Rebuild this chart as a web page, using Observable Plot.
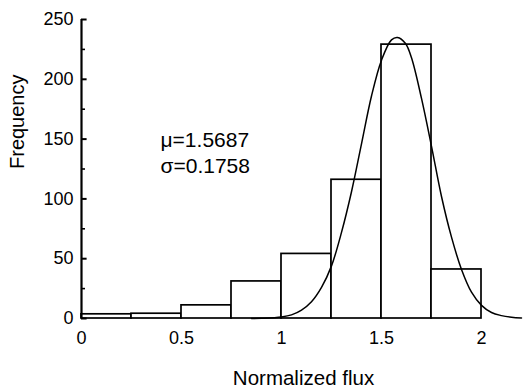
<!DOCTYPE html>
<html>
<head>
<meta charset="utf-8">
<script src="https://cdn.jsdelivr.net/npm/d3@7"></script>
<script src="https://cdn.jsdelivr.net/npm/@observablehq/plot@0.6"></script>
<style>
  body { margin: 0; background: #fff; }
</style>
</head>
<body>
<div id="chart"></div>
<script>
// Histogram bins (Normalized flux)
const binStarts = [0, 0.25, 0.5, 0.75, 1.0, 1.25, 1.5, 1.75];
const binWidth = 0.25;
const frequencies = [3.5, 4, 11, 31, 54, 116, 229, 41];

// Fitted normal curve
const curveX = [0.85, 0.9, 1.0, 1.05, 1.1, 1.15, 1.2, 1.25, 1.3, 1.35, 1.4, 1.45, 1.5, 1.55, 1.58, 1.62, 1.65, 1.7, 1.75, 1.8, 1.85, 1.9, 1.95, 2.0, 2.05, 2.1, 2.15, 2.2];
const curveY = [0, 0.2, 1.3, 3, 7, 14, 26, 44, 72, 106, 146, 186, 216, 233, 235, 230, 218, 184, 144, 102, 68, 41, 22, 11, 5, 2.4, 1, 0.4];

// Axis ticks
const xTicks = [0, 0.5, 1, 1.5, 2];
const yTicks = [0, 50, 100, 150, 200, 250];
const yMinorTicks = [25, 75, 125, 175, 225];

// Text
const xTitle = "Normalized flux";
const yTitle = "Frequency";
const annotations = ["μ=1.5687", "σ=0.1758"];

const bars = binStarts.map((s, i) => ({x1: s, x2: s + binWidth, y: frequencies[i]}));
const curve = curveX.map((x, i) => ({x, y: curveY[i]}));

const W = 531, H = 387;
const mL = 81, mR = 6, mT = 19, mB = 69;
const font = "'Liberation Sans', Arial, sans-serif";

const annX = 0.395;
const annY = [143, 122];
const majorLen = 0.028, minorLen = 0.02; // tick lengths in x units

const chart = Plot.plot({
  width: W,
  height: H,
  marginLeft: mL,
  marginRight: mR,
  marginTop: mT,
  marginBottom: mB,
  style: {fontFamily: font, fontSize: "18px", background: "#fff"},
  x: {domain: [0, 2.22]},
  y: {domain: [0, 250]},
  marks: [
    Plot.rectY(bars, {x1: "x1", x2: "x2", y1: 0, y2: "y", fill: "white", stroke: "black", strokeWidth: 1.7}),
    Plot.line(curve, {x: "x", y: "y", curve: "catmull-rom", stroke: "black", strokeWidth: 1.5}),
    Plot.ruleX([0], {y1: 0, y2: 250, stroke: "black", strokeWidth: 2.2}),
    Plot.ruleY(yTicks, {y: d => d, x1: 0, x2: majorLen, stroke: "black", strokeWidth: 2}),
    Plot.ruleY(yMinorTicks, {y: d => d, x1: 0, x2: minorLen, stroke: "black", strokeWidth: 1.6}),
    Plot.axisX({ticks: xTicks, tickSize: 0, tickPadding: 13, tickFormat: d => String(d), label: null, fontSize: 18}),
    Plot.axisY({ticks: yTicks, tickSize: 0, tickPadding: 8, label: null, fontSize: 18}),
    Plot.text([xTitle], {frameAnchor: "bottom", dy: 66, lineAnchor: "bottom", fontSize: 20.5, fill: "black"}),
    Plot.text([yTitle], {frameAnchor: "left", dx: -64, rotate: -90, fontSize: 20, fill: "black"}),
    Plot.text(annotations, {x: annX, y: (d, i) => annY[i], textAnchor: "start", lineAnchor: "bottom", fontSize: 21, fill: "black"})
  ]
});

document.getElementById("chart").appendChild(chart);
</script>
</body>
</html>
